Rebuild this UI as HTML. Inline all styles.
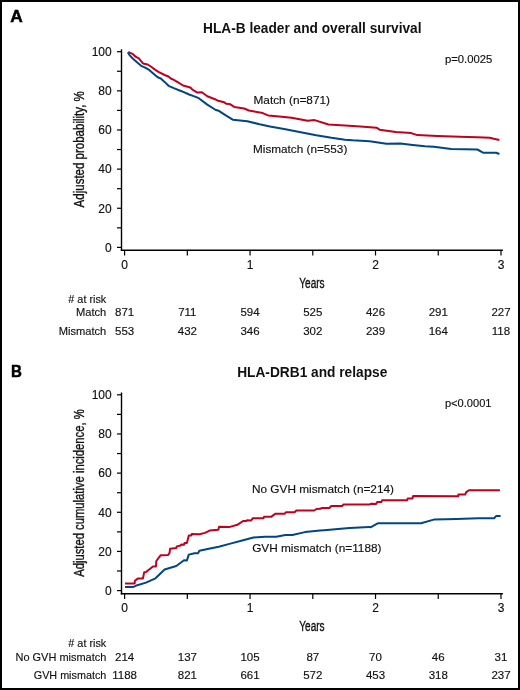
<!DOCTYPE html>
<html><head><meta charset="utf-8"><style>
html,body{margin:0;padding:0;background:#fff;overflow:hidden;width:520px;height:690px;}
svg{display:block;will-change:transform;}
text{font-family:'Liberation Sans', sans-serif;fill:#111111;stroke:#111111;stroke-width:0.15px;}
text.b{stroke-width:0;}
text.c{stroke-width:0.35px;}
text.lab{stroke-width:0.5px;fill:#000;stroke:#000;}
</style></head><body>
<svg width="520" height="690" viewBox="0 0 520 690">
<rect x="1" y="1" width="518" height="688" fill="#fff" stroke="#000" stroke-width="2"/>
<text x="10.3" y="22.4" font-size="17" font-weight="bold" class="lab" textLength="12.5" lengthAdjust="spacingAndGlyphs">A</text>
<text x="203" y="33.2" font-size="14" font-weight="bold" class="b" textLength="218.5" lengthAdjust="spacingAndGlyphs">HLA-B leader and overall survival</text>
<text x="444.9" y="63.2" font-size="11" textLength="47.4" lengthAdjust="spacingAndGlyphs">p=0.0025</text>
<text x="253.5" y="104.2" font-size="11.5" textLength="76.5" lengthAdjust="spacingAndGlyphs">Match (n=871)</text>
<text x="253" y="152.7" font-size="11.5" textLength="94.3" lengthAdjust="spacingAndGlyphs">Mismatch (n=553)</text>
<line x1="121.5" y1="49.3" x2="121.5" y2="250.89999999999998" stroke="#000" stroke-width="1.4"/>
<line x1="120.8" y1="250.2" x2="502.9" y2="250.2" stroke="#000" stroke-width="1.4"/>
<line x1="117" y1="247.40" x2="121.5" y2="247.40" stroke="#000" stroke-width="1.2"/>
<text x="111.7" y="251.70" text-anchor="end" font-size="12">0</text>
<line x1="117" y1="227.83" x2="121.5" y2="227.83" stroke="#000" stroke-width="1.2"/>
<line x1="117" y1="208.26" x2="121.5" y2="208.26" stroke="#000" stroke-width="1.2"/>
<text x="111.7" y="212.56" text-anchor="end" font-size="12">20</text>
<line x1="117" y1="188.69" x2="121.5" y2="188.69" stroke="#000" stroke-width="1.2"/>
<line x1="117" y1="169.12" x2="121.5" y2="169.12" stroke="#000" stroke-width="1.2"/>
<text x="111.7" y="173.42" text-anchor="end" font-size="12">40</text>
<line x1="117" y1="149.55" x2="121.5" y2="149.55" stroke="#000" stroke-width="1.2"/>
<line x1="117" y1="129.98" x2="121.5" y2="129.98" stroke="#000" stroke-width="1.2"/>
<text x="111.7" y="134.28" text-anchor="end" font-size="12">60</text>
<line x1="117" y1="110.41" x2="121.5" y2="110.41" stroke="#000" stroke-width="1.2"/>
<line x1="117" y1="90.84" x2="121.5" y2="90.84" stroke="#000" stroke-width="1.2"/>
<text x="111.7" y="95.14" text-anchor="end" font-size="12">80</text>
<line x1="117" y1="71.27" x2="121.5" y2="71.27" stroke="#000" stroke-width="1.2"/>
<line x1="117" y1="51.70" x2="121.5" y2="51.70" stroke="#000" stroke-width="1.2"/>
<text x="111.7" y="56.00" text-anchor="end" font-size="12">100</text>
<line x1="124.60" y1="250.2" x2="124.60" y2="255.5" stroke="#000" stroke-width="1.2"/>
<text x="124.60" y="268.60" text-anchor="middle" font-size="12">0</text>
<line x1="187.33" y1="250.2" x2="187.33" y2="255.5" stroke="#000" stroke-width="1.2"/>
<line x1="250.06" y1="250.2" x2="250.06" y2="255.5" stroke="#000" stroke-width="1.2"/>
<text x="250.06" y="268.60" text-anchor="middle" font-size="12">1</text>
<line x1="312.79" y1="250.2" x2="312.79" y2="255.5" stroke="#000" stroke-width="1.2"/>
<line x1="375.52" y1="250.2" x2="375.52" y2="255.5" stroke="#000" stroke-width="1.2"/>
<text x="375.52" y="268.60" text-anchor="middle" font-size="12">2</text>
<line x1="438.25" y1="250.2" x2="438.25" y2="255.5" stroke="#000" stroke-width="1.2"/>
<line x1="500.98" y1="250.2" x2="500.98" y2="255.5" stroke="#000" stroke-width="1.2"/>
<text x="500.98" y="268.60" text-anchor="middle" font-size="12">3</text>
<text x="299.3" y="287.80" class="c" font-size="14" textLength="25.3" lengthAdjust="spacingAndGlyphs">Years</text>
<text transform="translate(84.1,207.4) rotate(-90)" x="0" y="0" class="c" font-size="14" textLength="116.2" lengthAdjust="spacingAndGlyphs">Adjusted probability, %</text>
<text x="68.3" y="302.9" font-size="11.5" textLength="38" lengthAdjust="spacingAndGlyphs">&#35; at risk</text>
<text x="76" y="316.2" font-size="11.5" textLength="30.30" lengthAdjust="spacingAndGlyphs">Match</text>
<text x="124.60" y="316.2" text-anchor="middle" font-size="11.5">871</text>
<text x="187.33" y="316.2" text-anchor="middle" font-size="11.5">711</text>
<text x="250.06" y="316.2" text-anchor="middle" font-size="11.5">594</text>
<text x="312.79" y="316.2" text-anchor="middle" font-size="11.5">525</text>
<text x="375.52" y="316.2" text-anchor="middle" font-size="11.5">426</text>
<text x="438.25" y="316.2" text-anchor="middle" font-size="11.5">291</text>
<text x="500.98" y="316.2" text-anchor="middle" font-size="11.5">227</text>
<text x="58.7" y="335.1" font-size="11.5" textLength="47.60" lengthAdjust="spacingAndGlyphs">Mismatch</text>
<text x="124.60" y="335.1" text-anchor="middle" font-size="11.5">553</text>
<text x="187.33" y="335.1" text-anchor="middle" font-size="11.5">432</text>
<text x="250.06" y="335.1" text-anchor="middle" font-size="11.5">346</text>
<text x="312.79" y="335.1" text-anchor="middle" font-size="11.5">302</text>
<text x="375.52" y="335.1" text-anchor="middle" font-size="11.5">239</text>
<text x="438.25" y="335.1" text-anchor="middle" font-size="11.5">164</text>
<text x="500.98" y="335.1" text-anchor="middle" font-size="11.5">118</text>
<path d="M128.4,51.8 L130.1,52.8 L133.0,54.2 L135.3,56.5 L137.0,57.4 L138.8,58.3 L142.8,63.2 L144.0,63.8 L147.7,64.5 L150.8,66.5 L155.4,69.9 L158.5,71.9 L164.6,75.0 L168.5,76.5 L170.8,78.5 L173.8,79.9 L178.5,82.7 L183.0,85.5 L187.7,86.8 L190.8,87.8 L192.3,89.6 L196.2,91.9 L197.3,92.6 L201.9,92.3 L207.3,96.2 L215.0,99.2 L218.1,100.8 L224.2,102.3 L226.5,103.8 L230.4,104.3 L234.2,106.9 L244.2,108.5 L248.8,110.5 L262.7,113.1 L268.1,115.4 L279.2,116.5 L291.5,117.8 L307.7,120.8 L314.6,120.1 L328.5,124.5 L345.0,125.4 L360.4,126.5 L376.5,127.7 L379.6,129.7 L395.8,132.0 L411.2,133.1 L417.3,135.1 L437.3,136.0 L460.0,136.7 L477.3,137.3 L489.8,137.7 L493.7,138.7 L499.4,139.9" fill="none" stroke="#c2001e" stroke-width="2" stroke-linejoin="round"/>
<path d="M127.8,52.2 L129.5,55.1 L133.0,58.8 L137.0,62.3 L141.1,65.8 L144.6,67.3 L149.2,69.9 L153.8,73.9 L157.7,77.3 L160.8,78.5 L164.6,81.9 L168.5,85.8 L173.8,88.1 L181.5,91.2 L189.2,94.5 L195.0,96.6 L198.8,98.2 L207.3,104.6 L215.8,110.0 L218.8,110.8 L225.8,115.4 L232.7,119.7 L247.3,121.2 L259.6,124.3 L270.0,126.5 L285.4,129.2 L300.8,132.2 L316.2,135.3 L331.5,137.8 L345.0,139.7 L352.7,140.3 L369.6,141.2 L386.5,143.8 L400.4,143.5 L412.7,144.9 L425.0,146.2 L433.8,146.7 L451.2,148.9 L477.3,149.5 L483.1,152.7 L496.1,152.7 L499.4,154.0" fill="none" stroke="#004584" stroke-width="2" stroke-linejoin="round"/>
<text x="10.9" y="376.7" font-size="16.5" font-weight="bold" class="lab" textLength="10.9" lengthAdjust="spacingAndGlyphs">B</text>
<text x="237.2" y="376.5" font-size="14" font-weight="bold" class="b" textLength="150.1" lengthAdjust="spacingAndGlyphs">HLA-DRB1 and relapse</text>
<text x="444.9" y="406.6" font-size="11" textLength="46.6" lengthAdjust="spacingAndGlyphs">p&lt;0.0001</text>
<text x="252" y="493" font-size="11.5" textLength="142" lengthAdjust="spacingAndGlyphs">No GVH mismatch (n=214)</text>
<text x="252.2" y="552.3" font-size="11.5" textLength="129.3" lengthAdjust="spacingAndGlyphs">GVH mismatch (n=1188)</text>
<line x1="121.5" y1="392.5" x2="121.5" y2="594.4000000000001" stroke="#000" stroke-width="1.4"/>
<line x1="120.8" y1="593.7" x2="502.9" y2="593.7" stroke="#000" stroke-width="1.4"/>
<line x1="117" y1="590.60" x2="121.5" y2="590.60" stroke="#000" stroke-width="1.2"/>
<text x="111.7" y="594.90" text-anchor="end" font-size="12">0</text>
<line x1="117" y1="571.02" x2="121.5" y2="571.02" stroke="#000" stroke-width="1.2"/>
<line x1="117" y1="551.44" x2="121.5" y2="551.44" stroke="#000" stroke-width="1.2"/>
<text x="111.7" y="555.74" text-anchor="end" font-size="12">20</text>
<line x1="117" y1="531.86" x2="121.5" y2="531.86" stroke="#000" stroke-width="1.2"/>
<line x1="117" y1="512.28" x2="121.5" y2="512.28" stroke="#000" stroke-width="1.2"/>
<text x="111.7" y="516.58" text-anchor="end" font-size="12">40</text>
<line x1="117" y1="492.70" x2="121.5" y2="492.70" stroke="#000" stroke-width="1.2"/>
<line x1="117" y1="473.12" x2="121.5" y2="473.12" stroke="#000" stroke-width="1.2"/>
<text x="111.7" y="477.42" text-anchor="end" font-size="12">60</text>
<line x1="117" y1="453.54" x2="121.5" y2="453.54" stroke="#000" stroke-width="1.2"/>
<line x1="117" y1="433.96" x2="121.5" y2="433.96" stroke="#000" stroke-width="1.2"/>
<text x="111.7" y="438.26" text-anchor="end" font-size="12">80</text>
<line x1="117" y1="414.38" x2="121.5" y2="414.38" stroke="#000" stroke-width="1.2"/>
<line x1="117" y1="394.80" x2="121.5" y2="394.80" stroke="#000" stroke-width="1.2"/>
<text x="111.7" y="399.10" text-anchor="end" font-size="12">100</text>
<line x1="124.60" y1="593.7" x2="124.60" y2="599.0" stroke="#000" stroke-width="1.2"/>
<text x="124.60" y="612.10" text-anchor="middle" font-size="12">0</text>
<line x1="187.33" y1="593.7" x2="187.33" y2="599.0" stroke="#000" stroke-width="1.2"/>
<line x1="250.06" y1="593.7" x2="250.06" y2="599.0" stroke="#000" stroke-width="1.2"/>
<text x="250.06" y="612.10" text-anchor="middle" font-size="12">1</text>
<line x1="312.79" y1="593.7" x2="312.79" y2="599.0" stroke="#000" stroke-width="1.2"/>
<line x1="375.52" y1="593.7" x2="375.52" y2="599.0" stroke="#000" stroke-width="1.2"/>
<text x="375.52" y="612.10" text-anchor="middle" font-size="12">2</text>
<line x1="438.25" y1="593.7" x2="438.25" y2="599.0" stroke="#000" stroke-width="1.2"/>
<line x1="500.98" y1="593.7" x2="500.98" y2="599.0" stroke="#000" stroke-width="1.2"/>
<text x="500.98" y="612.10" text-anchor="middle" font-size="12">3</text>
<text x="299.3" y="631.30" class="c" font-size="14" textLength="25.3" lengthAdjust="spacingAndGlyphs">Years</text>
<text transform="translate(84.1,576.8) rotate(-90)" x="0" y="0" class="c" font-size="14" textLength="167.5" lengthAdjust="spacingAndGlyphs">Adjusted cumulative incidence, %</text>
<text x="68.3" y="646.5" font-size="11.5" textLength="38" lengthAdjust="spacingAndGlyphs">&#35; at risk</text>
<text x="15.5" y="660.6" font-size="11.5" textLength="90.80" lengthAdjust="spacingAndGlyphs">No GVH mismatch</text>
<text x="124.60" y="660.6" text-anchor="middle" font-size="11.5">214</text>
<text x="187.33" y="660.6" text-anchor="middle" font-size="11.5">137</text>
<text x="250.06" y="660.6" text-anchor="middle" font-size="11.5">105</text>
<text x="312.79" y="660.6" text-anchor="middle" font-size="11.5">87</text>
<text x="375.52" y="660.6" text-anchor="middle" font-size="11.5">70</text>
<text x="438.25" y="660.6" text-anchor="middle" font-size="11.5">46</text>
<text x="500.98" y="660.6" text-anchor="middle" font-size="11.5">31</text>
<text x="33.75" y="678.9" font-size="11.5" textLength="72.55" lengthAdjust="spacingAndGlyphs">GVH mismatch</text>
<text x="124.60" y="678.9" text-anchor="middle" font-size="11.5">1188</text>
<text x="187.33" y="678.9" text-anchor="middle" font-size="11.5">821</text>
<text x="250.06" y="678.9" text-anchor="middle" font-size="11.5">661</text>
<text x="312.79" y="678.9" text-anchor="middle" font-size="11.5">572</text>
<text x="375.52" y="678.9" text-anchor="middle" font-size="11.5">453</text>
<text x="438.25" y="678.9" text-anchor="middle" font-size="11.5">318</text>
<text x="500.98" y="678.9" text-anchor="middle" font-size="11.5">237</text>
<path d="M125.0,583.5 L134.7,583.5 L134.9,580.7 L137.7,578.6 L142.9,578.6 L144.2,572.3 L146.0,572.0 L152.9,566.5 L155.9,566.5 L156.3,561.0 L160.7,555.2 L168.2,555.1 L169.6,552.7 L170.1,548.7 L176.3,547.9 L176.8,546.4 L180.7,545.5 L181.2,544.5 L184.0,544.8 L184.5,542.9 L186.9,542.9 L188.8,535.4 L191.3,535.4 L191.7,533.9 L199.4,534.2 L205.0,532.9 L209.6,530.6 L218.3,529.8 L219.1,526.8 L229.2,527.1 L237.3,524.8 L243.1,521.0 L246.5,521.0 L247.1,520.2 L251.2,520.5 L252.9,518.2 L263.5,518.3 L264.0,516.8 L271.0,516.8 L275.6,513.7 L284.8,513.7 L286.0,512.2 L294.6,512.2 L296.3,510.5 L314.2,510.5 L316.5,509.0 L320.2,508.8 L321.9,508.0 L329.4,508.0 L331.2,506.0 L342.1,506.0 L343.3,504.6 L368.7,504.6 L371.5,503.7 L376.1,503.9 L377.4,501.9 L381.4,501.9 L382.1,500.3 L407.0,500.3 L407.7,498.6 L412.4,498.6 L413.1,495.9 L458.1,496.3 L458.4,494.5 L465.3,494.5 L466.0,492.4 L468.9,490.2 L499.9,490.2" fill="none" stroke="#c2001e" stroke-width="2" stroke-linejoin="round"/>
<path d="M125.0,587.1 L133.0,587.1 L137.3,585.2 L146.0,582.6 L155.5,578.3 L164.6,569.5 L176.3,566.0 L184.0,560.2 L186.9,560.4 L188.8,554.6 L194.6,553.2 L198.0,553.2 L199.4,550.8 L210.0,548.4 L218.8,546.7 L230.4,543.6 L243.1,540.2 L253.5,537.5 L265.0,536.7 L276.2,536.7 L285.4,535.0 L292.3,535.0 L305.0,532.1 L320.0,530.6 L324.2,530.2 L338.1,529.0 L349.6,527.9 L369.2,526.9 L370.5,527.3 L378.1,523.2 L421.1,523.2 L434.6,519.4 L456.6,519.0 L478.3,518.3 L494.1,518.3 L496.3,515.9 L500.6,515.9" fill="none" stroke="#004584" stroke-width="2" stroke-linejoin="round"/>
</svg>
</body></html>
